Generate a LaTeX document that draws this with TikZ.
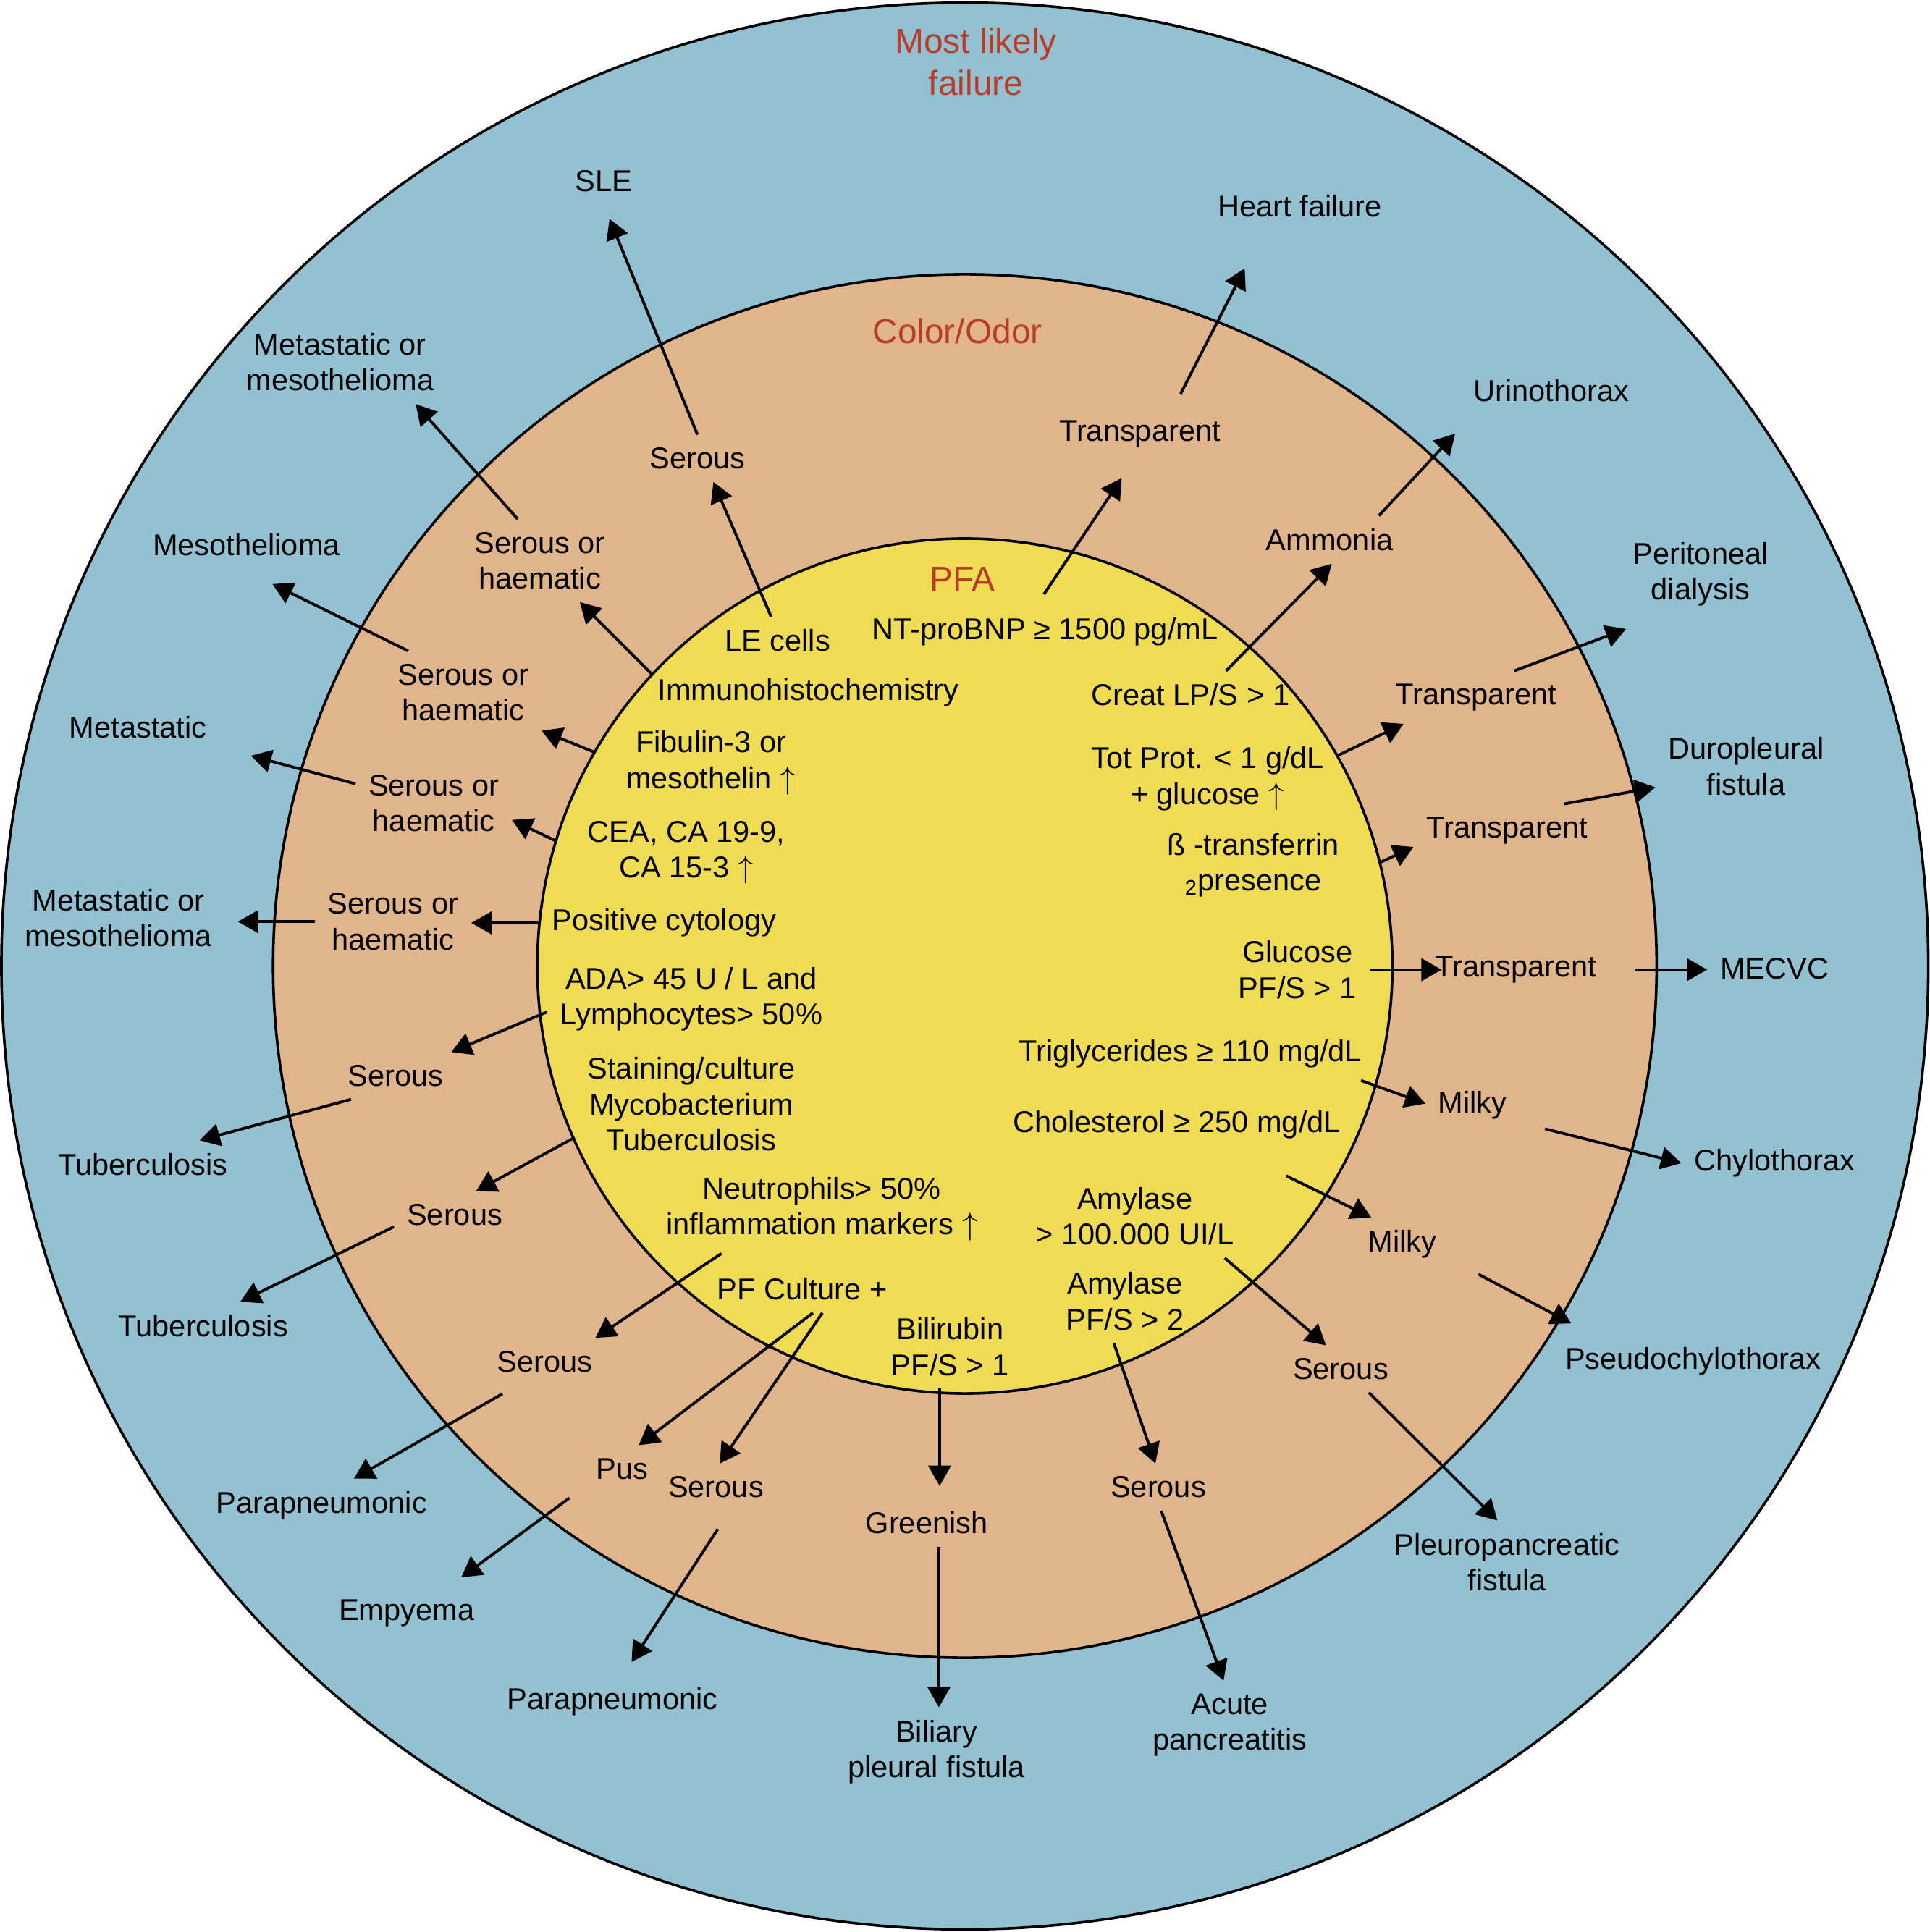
\documentclass[tikz,border=0pt]{standalone}
\usepackage{fontspec}
\setmainfont{Liberation Sans}
\usetikzlibrary{arrows.meta}
\definecolor{failblue}{RGB}{148,193,209}
\definecolor{odororange}{RGB}{225,181,139}
\definecolor{pfayellow}{RGB}{239,219,84}
\definecolor{titlered}{RGB}{185,60,40}
\tikzstyle{ring} = [
    circle,
    draw=black,
    line width=1.2pt,
    inner sep=0pt,
    outer sep=0pt
]
\tikzstyle{txt} = [
    align=center,
    inner sep=2pt,
    outer sep=4pt,
    font=\fontsize{13.9}{16.5}\selectfont
]
\tikzstyle{ringtitle} = [
    txt,
    text=titlered,
    font=\fontsize{16}{19.3}\selectfont
]
\tikzstyle{arrow} = [
    line width=1.3pt,
    -{Triangle[length=9.4pt, width=10.4pt]}
]
\begin{document}
\begin{tikzpicture}[x=0.02cm, y=-0.02cm]
    \useasboundingbox (0,0) rectangle (1566,1568);

    % Rings
    \node (fail) [ring, fill=failblue, minimum size=31.28cm] at (783,784) {};
    \node (odor) [ring, fill=odororange, minimum size=22.46cm] at (783,784) {};
    \node (pfa) [ring, fill=pfayellow, minimum size=13.88cm] at (783,784) {};

    % Titles
    \node (failt) [ringtitle] at (792,50) {Most likely\\failure};
    \node (odort) [ringtitle] at (777,269) {Color/Odor};
    \node (pfat) [ringtitle] at (781,470) {PFA};

    % Most likely failure
    \node (sle) [txt] at (490,147) {SLE};
    \node (hf) [txt] at (1055,167) {Heart failure};
    \node (mm1) [txt] at (276,294) {Metastatic or\\mesothelioma};
    \node (uri) [txt] at (1259,317) {Urinothorax};
    \node (meso) [txt] at (200,442) {Mesothelioma};
    \node (pd) [txt] at (1380,466) {Peritoneal\\dialysis};
    \node (meta) [txt] at (112,590) {Metastatic};
    \node (dpf) [txt] at (1417,622) {Duropleural\\fistula};
    \node (mm2) [txt] at (96,745) {Metastatic or\\mesothelioma};
    \node (mecvc) [txt] at (1440,786) {MECVC};
    \node (tb1) [txt] at (116,945) {Tuberculosis};
    \node (chy) [txt] at (1440,944) {Chylothorax};
    \node (tb2) [txt] at (165,1076) {Tuberculosis};
    \node (pchy) [txt] at (1374,1105) {Pseudochylothorax};
    \node (para1) [txt] at (261,1222) {Parapneumonic};
    \node (ppf) [txt] at (1223,1268) {Pleuropancreatic\\fistula};
    \node (emp) [txt] at (330,1309) {Empyema};
    \node (para2) [txt] at (497,1381) {Parapneumonic};
    \node (bpf) [txt] at (760,1422) {Biliary\\pleural fistula};
    \node (ap) [txt] at (998,1400) {Acute\\pancreatitis};

    % Color/Odor
    \node (serA) [txt] at (566,372) {Serous};
    \node (trA) [txt] at (925,352) {Transparent};
    \node (soh1) [txt] at (438,455) {Serous or\\haematic};
    \node (amm) [txt] at (1079,438) {Ammonia};
    \node (soh2) [txt] at (376,562) {Serous or\\haematic};
    \node (trB) [txt] at (1198,566) {Transparent};
    \node (soh3) [txt] at (352,652) {Serous or\\haematic};
    \node (trC) [txt] at (1223,674) {Transparent};
    \node (soh4) [txt] at (319,748) {Serous or\\haematic};
    \node (trD) [txt] at (1230,787) {Transparent};
    \node (serB) [txt] at (321,873) {Serous};
    \node (milk1) [txt] at (1195,897) {Milky};
    \node (serC) [txt] at (369,986) {Serous};
    \node (milk2) [txt] at (1138,1010) {Milky};
    \node (serD) [txt] at (442,1105) {Serous};
    \node (serE) [txt] at (1088,1111) {Serous};
    \node (pus) [txt] at (505,1192) {Pus};
    \node (serF) [txt] at (581,1207) {Serous};
    \node (green) [txt] at (752,1236) {Greenish};
    \node (serG) [txt] at (940,1207) {Serous};

    % PFA
    \node (le) [txt] at (631,520) {LE cells};
    \node (ntp) [txt] at (848,513) {NT-proBNP ≥ 1500 pg/mL};
    \node (ihc) [txt] at (656,562) {Immunohistochemistry};
    \node (creat) [txt] at (966,564) {Creat LP/S > 1};
    \node (fib) [txt] at (577,619) {Fibulin-3 or\\mesothelin $\uparrow$};
    \node (tot) [txt] at (980,632) {Tot Prot. < 1 g/dL\\+ glucose $\uparrow$};
    \node (cea) [txt] at (557,692) {CEA, CA 19-9,\\CA 15-3 $\uparrow$};
    \node (btf) [txt] at (1017,702) {ß -transferrin\\\textsubscript{2}presence};
    \node (pos) [txt] at (539,749) {Positive cytology};
    \node (glu) [txt] at (1053,787) {Glucose\\PF/S > 1};
    \node (ada) [txt] at (561,811) {ADA> 45 U / L and\\Lymphocytes> 50\%};
    \node (tri) [txt] at (966,855) {Triglycerides ≥ 110 mg/dL};
    \node (stain) [txt] at (561,896) {Staining/culture\\Mycobacterium\\Tuberculosis};
    \node (chol) [txt] at (955,913) {Cholesterol ≥ 250 mg/dL};
    \node (neu) [txt] at (667,981) {Neutrophils> 50\%\\inflammation markers $\uparrow$};
    \node (amy1) [txt] at (921,987) {Amylase\\> 100.000 UI/L};
    \node (pfc) [txt] at (651,1046) {PF Culture +};
    \node (amy2) [txt] at (913,1056) {Amylase\\PF/S > 2};
    \node (bili) [txt] at (771,1093) {Bilirubin\\PF/S > 1};

    % Left half
    \draw [arrow] (le.105) -- (serA.-56);
    \draw [arrow, shorten >=7pt] (serA.north) -- (sle.south);
    \draw [arrow] (pfa.137) -- (soh1.-46);
    \draw [arrow] (soh1.118) -- (mm1.-29);
    \draw [arrow] (pfa.150) -- (soh2.-26);
    \draw [arrow, shorten >=16pt] (soh2.143) -- (meso.-102);
    \draw [arrow] (pfa.163) -- (soh3.-12);
    \draw [arrow, shorten >=15pt] (soh3.166) -- (meta.-14);
    \draw [arrow] (pos.west) -- (pos.west -| soh4.east);
    \draw [arrow, shorten >=6pt] (soh4.west) -- (soh4.west -| mm2.east);
    \draw [arrow] (ada.185) -- (serB.23);
    \draw [arrow] (serB.208) -- (tb1.23);
    \draw [arrow] (stain.196) -- (serC.48);
    \draw [arrow] (serC.191) -- (tb2.33);
    \draw [arrow] (neu.204) -- (serD.25);
    \draw [arrow, shorten <=8pt] (serD.221) -- (para1.40);
    \draw [arrow] (pfc.-66) -- (pus.55);
    \draw [arrow] (pfc.-50) -- (serF.81);
    \draw [arrow, shorten <=8pt, shorten >=7pt] (pus.206) -- (emp.32);
    \draw [arrow, shorten <=10pt, shorten >=7pt] (serF.-60) -- (para2.68);

    % Bottom
    \draw [arrow, shorten >=6pt] (bili.-104) -- (bili.-104 |- green.north);
    \draw [arrow] (green.-63) -- (green.-63 |- bpf.north);

    % Right half
    \draw [arrow] (amy2.-105) -- (serG.97);
    \draw [arrow] (serG.-83) -- (ap.98);
    \draw [arrow] (amy1.-25) -- (serE.122);
    \draw [arrow] (serE.-40) -- (ppf.103);
    \draw [arrow, shorten <=25pt] (chol.-24) -- (milk2.139);
    \draw [arrow, shorten <=15pt, shorten >=11pt] (milk2.-17) -- (pchy.165);
    \draw [arrow] (tri.-9) -- (milk1.178);
    \draw [arrow, shorten <=12pt] (milk1.-20) -- (chy.west);
    \draw [arrow, shorten >=-9pt] (glu.east) -- (glu.east -| trD.west);
    \draw [arrow, shorten <=12pt] (trD.east) -- (trD.east -| mecvc.west);
    \draw [arrow] (pfa.14) -- (trC.190);
    \draw [arrow] (trC.25) -- (dpf.193);
    \draw [arrow] (tot.10) -- (trB.200);
    \draw [arrow, shorten >=13pt] (trB.35) -- (pd.223);
    \draw [arrow] (creat.34) -- (amm.-85);
    \draw [arrow, shorten >=12pt] (amm.26) -- (uri.197);
    \draw [arrow, shorten <=6pt, shorten >=10pt] (ntp.107) -- (trA.-103);
    \draw [arrow, shorten <=7pt, shorten >=20pt] (trA.38) -- (hf.214);

\end{tikzpicture}
\end{document}
